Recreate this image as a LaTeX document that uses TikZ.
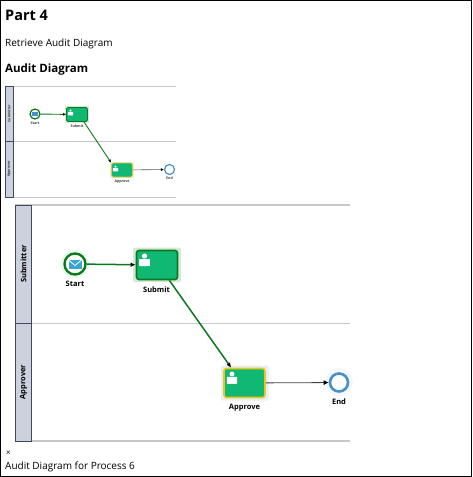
\documentclass[tikz,border=0pt]{standalone}
\usepackage{fontspec}
\setmainfont{Open Sans}
\usetikzlibrary{arrows.meta}
\definecolor{lanefill}{HTML}{CBD2DE}
\definecolor{laneedge}{HTML}{3F4A5E}
\definecolor{taskgreen}{HTML}{10B873}
\definecolor{flowgreen}{HTML}{0B7A1E}
\definecolor{glowgreen}{HTML}{D5E8D5}
\definecolor{glowblue}{HTML}{E8EEF4}
\definecolor{endblue}{HTML}{4A90C8}
\definecolor{goldedge}{HTML}{E8C820}
\definecolor{rulegrey}{HTML}{C8C8C8}
\tikzset{
  x=1pt,y=-1pt,
  txt/.style={inner sep=0pt,anchor=base west,text=black},
  lane/.style={draw=laneedge,fill=lanefill,line width=#1},
  lane/.default=1pt,
  rulel/.style={draw=rulegrey,line width=#1},
  rulel/.default=1pt,
  bigtask/.style={draw=#1,line width=1.6pt,fill=taskgreen,rounded corners=2.5pt,minimum width=41pt,minimum height=29pt,inner sep=0pt},
  smalltask/.style={draw=#1,line width=.9pt,fill=taskgreen,rounded corners=1.5pt,minimum width=21pt,minimum height=14pt,inner sep=0pt},
  bigcircle/.style={circle,draw=#1,fill=white,line width=2.4pt,minimum size=21pt,inner sep=0pt},
  smallcircle/.style={circle,draw=#1,fill=white,line width=1.2pt,minimum size=10pt,inner sep=0pt},
  biglab/.style={font=\bfseries\fontsize{7.5}{8}\selectfont,inner sep=0pt},
  smalllab/.style={font=\bfseries\fontsize{3.6}{4}\selectfont,inner sep=0pt,text=black!75},
  lanesmall/.style={rotate=90,font=\bfseries\fontsize{3.4}{4}\selectfont,inner sep=0pt,text=black!80},
  bigflow/.style={draw=flowgreen,line width=1.5pt,-{Latex[black,length=5pt,width=4.5pt]}},
  smallflow/.style={draw=flowgreen,line width=.9pt,-{Latex[black,length=3pt,width=3pt]}},
  greyflow/.style={draw=black!75,line width=#1,-{Latex[black,length=5pt,width=5pt]}},
  smallgrey/.style={draw=black!65,line width=.6pt,-{Latex[black,length=3pt,width=3pt]}},
}
\newcommand{\persona}[3]{%
  \fill[white] (#1,#2) circle ({#3*1.9});
  \fill[white,rounded corners=.4pt] ({#1-#3*4},{#2+#3*2.3}) rectangle ({#1+#3*4},{#2+#3*7.5});
}
\begin{document}
\begin{tikzpicture}
\useasboundingbox (0,0) rectangle (472,477);
\draw[black,line width=1pt] (.5,.5) rectangle (471.5,476.5);

% headings
\node[txt,font=\bfseries\fontsize{14.5}{18}\selectfont] (title) at (5,20.5) {Part 4};
\node[txt,font=\fontsize{10}{12}\selectfont] (sub) at (5,46.5) {Retrieve Audit Diagram};
\node[txt,font=\bfseries\fontsize{11.5}{14}\selectfont] (head) at (5,72.5) {Audit Diagram};

% small diagram
\draw[rulel=1pt] (5,86) -- (176,86);
\draw[rulel=1pt] (5,141.5) -- (176,141.5);
\draw[rulel=1pt] (5,197) -- (176,197);
\draw[lane=.6pt] (5,86) rectangle (13,141.5);
\draw[lane=.6pt] (5,141.5) rectangle (13,197);
\node[lanesmall] (sl1) at (9,113.5) {Submitter};
\node[lanesmall] (sl2) at (9,169) {Approver};

\fill[glowgreen] (65,106) rectangle (89,123);
\fill[glowblue] (110,162) rectangle (134,178);
\node[smallcircle=flowgreen] (ss) at (35,114) {};
\fill[endblue] (32.3,112.2) rectangle (37.7,116);
\node[smalltask=flowgreen] (st) at (77,114.5) {};
\node[smalltask=goldedge] (sa) at (122,170) {};
\node[smallcircle=endblue] (se) at (169.5,169.5) {};
\persona{70.5}{110.5}{.65}
\persona{115.5}{166.5}{.65}
\draw[smallflow] (ss) -- (st);
\draw[smallflow] (st.south east) ++(-4,0) -- (sa.north west);
\draw[smallgrey] (sa) -- (se);
\node[smalllab] (sl) at (35,123) {Start};
\node[smalllab] (su) at (77,126) {Submit};
\node[smalllab] (sp) at (122,182) {Approve};
\node[smalllab] (sn) at (169.5,178.5) {End};

% large diagram
\draw[rulel=1.2pt] (15,205) -- (350,205);
\draw[rulel=.8pt] (15,323) -- (350,323);
\draw[rulel=1.2pt] (15,441) -- (350,441);
\draw[lane=1pt] (15.5,205) rectangle (31,323);
\draw[lane=1pt] (15.5,323) rectangle (31,441);
\node[rotate=90,font=\bfseries\fontsize{7.5}{8}\selectfont,inner sep=0pt] (l1) at (23.5,264) {Submitter};
\node[rotate=90,font=\bfseries\fontsize{7.5}{8}\selectfont,inner sep=0pt] (l2) at (23.5,382) {Approver};

\fill[glowgreen,rounded corners=2pt] (133,247.5) rectangle (181,282);
\fill[glowblue,rounded corners=2pt] (221,365.5) rectangle (268.5,400.5);
\fill[white!70!endblue,opacity=.2] (339,382) circle (14);
\fill[white!80!flowgreen,opacity=.4] (75,264) circle (14);
\node[bigcircle=flowgreen] (a) at (75,264) {};
\fill[endblue!80!cyan] (68.5,260) rectangle (81.5,269);
\draw[white,line width=.8pt] (68.5,260) -- (75,265.5) -- (81.5,260);
\node[bigtask=flowgreen] (b) at (157,265) {};
\node[bigtask=goldedge] (c) at (244.5,383) {};
\node[circle,draw=endblue,fill=white,line width=2.6pt,minimum size=18pt,inner sep=0pt] (d) at (339,382.5) {};
\persona{144.5}{256}{1.35}
\persona{232}{374}{1.3}
\draw[bigflow] (a) -- (b);
\draw[bigflow] ([xshift=-9pt]b.south east) -- ([xshift=8pt]c.north west);
\draw[greyflow=.8pt] (c) -- (d);
\node[biglab] (la) at (75,283.5) {Start};
\node[biglab] (lb) at (156.5,289.5) {Submit};
\node[biglab] (lc) at (244.5,408) {Approve};
\node[biglab] (ld) at (339,402) {End};

% caption
\node[txt,font=\fontsize{8}{10}\selectfont] (x) at (6,455) {×};
\node[txt,font=\fontsize{10}{12}\selectfont] (cap) at (5,469) {Audit Diagram for Process 6};
\end{tikzpicture}
\end{document}
